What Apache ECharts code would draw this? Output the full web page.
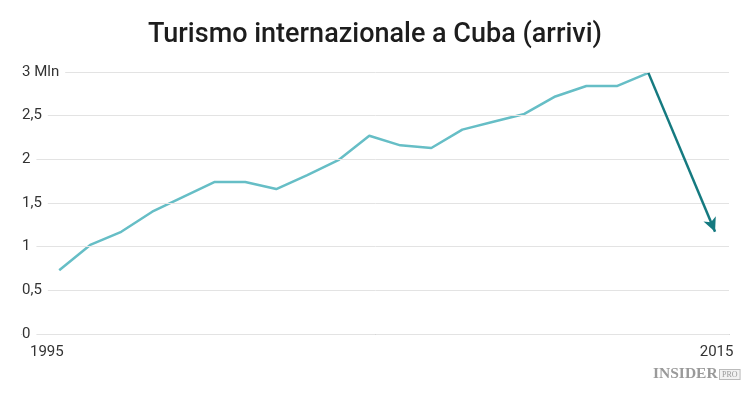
<!DOCTYPE html>
<html>
<head>
<meta charset="utf-8">
<script src="https://cdn.jsdelivr.net/npm/echarts@6/dist/echarts.min.js"></script>
<style>
  html, body { margin: 0; padding: 0; background: #fff; }
  #main { width: 750px; height: 398px; }
</style>
</head>
<body>
<div id="main"></div>
<script>
// arrivi di turisti internazionali (milioni)
var years = [1995, 1996, 1997, 1998, 1999, 2000, 2001, 2002, 2003, 2004,
             2005, 2006, 2007, 2008, 2009, 2010, 2011, 2012, 2013, 2014];
var arrivals = [0.73, 1.02, 1.17, 1.40, 1.57, 1.74, 1.74, 1.66, 1.82, 1.99,
                2.27, 2.16, 2.13, 2.34, 2.43, 2.52, 2.72, 2.84, 2.84, 2.99];
// freccia: dal picco verso il calo
var arrowFrom = [2014, 2.99];
var arrowTo = [2016.15, 1.17];
var xTickPos = [1994.6, 2016.2];
var xTickLabels = ['1995', '2015'];

var chart = echarts.init(document.getElementById('main'));

var option = {
  backgroundColor: '#ffffff',
  animation: false,
  title: {
    text: 'Turismo internazionale a Cuba (arrivi)',
    left: 'center',
    top: 17,
    textStyle: {
      fontFamily: 'Roboto',
      fontSize: 27,
      fontWeight: 500,
      color: '#1d1d1d'
    }
  },
  grid: {
    left: 22,
    right: 21,
    top: 72,
    bottom: 64
  },
  xAxis: {
    type: 'value',
    min: 1993.8,
    max: 2016.6,
    splitLine: { show: false },
    axisTick: { show: false },
    axisLine: { lineStyle: { color: '#999', width: 1 } },
    axisLabel: {
      customValues: xTickPos,
      formatter: function (v) {
        var i = xTickPos.indexOf(v);
        return i >= 0 ? xTickLabels[i] : '';
      },
      fontFamily: 'Roboto',
      fontSize: 15,
      color: '#333',
      margin: 11
    }
  },
  yAxis: {
    type: 'value',
    min: 0,
    max: 3,
    interval: 0.5,
    axisLine: { show: false },
    axisTick: { show: false },
    splitLine: { lineStyle: { color: '#e3e3e3', width: 1 } },
    axisLabel: {
      inside: true,
      margin: 0,
      fontFamily: 'Roboto',
      fontSize: 15,
      color: '#333',
      backgroundColor: '#fff',
      padding: [2, 6, 2, 0],
      formatter: function (v) {
        if (v === 3) return '3 Mln';
        return String(v).replace('.', ',');
      }
    },
    z: 5
  },
  series: [
    {
      type: 'line',
      data: years.map(function (y, i) { return [y, arrivals[i]]; }),
      symbol: 'none',
      lineStyle: { color: '#66bec6', width: 2.5 },
      z: 3,
      markLine: {
        silent: true,
        symbol: ['none', 'arrow'],
        symbolSize: [10, 14],
        label: { show: false },
        lineStyle: { color: '#157a80', width: 2.5, type: 'solid' },
        data: [[
          { coord: arrowFrom },
          { coord: arrowTo }
        ]]
      }
    }
  ],
  graphic: [
    {
      type: 'text',
      left: 653,
      top: 366,
      style: {
        text: 'INSIDER',
        font: 'bold 15.5px "Liberation Serif"',
        fill: '#9a9a9a'
      }
    },
    {
      type: 'text',
      left: 719,
      top: 369,
      style: {
        text: 'PRO',
        font: '8px "Liberation Serif"',
        fill: '#9a9a9a',
        backgroundColor: '#f2f2f2',
        borderColor: '#bbb',
        borderWidth: 1,
        padding: [1, 2, 0, 2]
      }
    }
  ]
};

chart.setOption(option);
</script>
</body>
</html>
